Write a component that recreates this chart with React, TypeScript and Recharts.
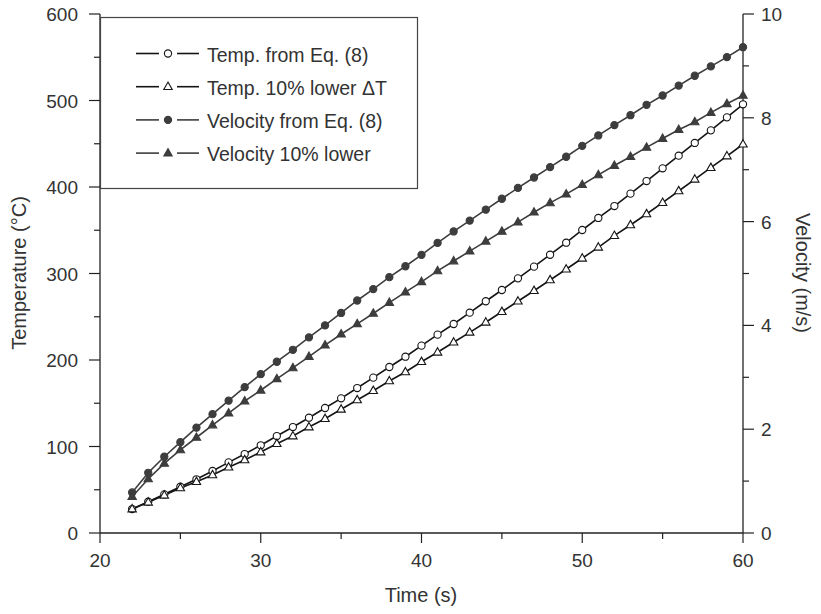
import React from "react";
import { LineChart, Line, XAxis, YAxis } from "recharts";

// time (s)
const times = [
  22, 23, 24, 25, 26, 27, 28, 29, 30, 31, 32, 33, 34, 35, 36, 37, 38, 39, 40, 41,
  42, 43, 44, 45, 46, 47, 48, 49, 50, 51, 52, 53, 54, 55, 56, 57, 58, 59, 60,
];

// temperature (°C)
const tempEq8 = [
  27.7, 36.2, 44.7, 53.5, 62.1, 71.7, 81.7, 91.3, 101.4, 112.1, 122.5, 133.3, 144.5,
  155.7, 167.6, 179.6, 191.9, 203.8, 216.6, 229.3, 241.6, 254.7, 267.9, 280.9, 294.4,
  307.9, 321.7, 335.6, 350.3, 364.2, 378, 392.3, 406.9, 421.6, 436.2, 450.9, 465.5,
  480.5, 495.6,
];
const tempLower = [
  27.7, 35.5, 43.6, 52, 59.3, 67.1, 76, 84.4, 93.6, 103.2, 112.1, 122.5, 132.1,
  143, 153.8, 164.5, 175.7, 186.1, 198, 208.9, 220.5, 232, 243.6, 255.8, 267.9,
  280.1, 292.5, 304.9, 317.6, 330.3, 343.7, 356.1, 368.8, 381.9, 395.4, 408.9, 422.3,
  435.8, 449.4,
];

// velocity (m/s)
const velEq8 = [
  0.78, 1.16, 1.47, 1.75, 2.03, 2.29, 2.55, 2.81, 3.06, 3.3, 3.53, 3.77, 4.0,
  4.24, 4.48, 4.7, 4.93, 5.14, 5.36, 5.59, 5.81, 6.02, 6.23, 6.44, 6.65, 6.85,
  7.05, 7.25, 7.46, 7.66, 7.86, 8.05, 8.25, 8.43, 8.62, 8.81, 8.99, 9.17, 9.36,
];
const velLower = [
  0.7, 1.04, 1.34, 1.6, 1.84, 2.08, 2.31, 2.54, 2.75, 2.97, 3.18, 3.4, 3.62,
  3.83, 4.03, 4.23, 4.44, 4.64, 4.84, 5.05, 5.24, 5.43, 5.62, 5.81, 5.99, 6.18,
  6.36, 6.53, 6.71, 6.9, 7.08, 7.25, 7.43, 7.6, 7.77, 7.92, 8.1, 8.27, 8.43,
];

const timeTicks = [20, 25, 30, 35, 40, 45, 50, 55, 60];
const tempTicks = [0, 50, 100, 150, 200, 250, 300, 350, 400, 450, 500, 550, 600];
const velTicks = [0, 1, 2, 3, 4, 5, 6, 7, 8, 9, 10];

const legendItems = [
  { label: "Temp. from Eq. (8)", shape: "circle", filled: false },
  { label: "Temp. 10% lower \u0394T", shape: "triangle", filled: false },
  { label: "Velocity from Eq. (8)", shape: "circle", filled: true },
  { label: "Velocity 10% lower", shape: "triangle", filled: true },
];

const data = times.map((t, i) => ({
  time: t,
  tempEq8: tempEq8[i],
  tempLower: tempLower[i],
  velEq8: velEq8[i],
  velLower: velLower[i],
}));

const FONT = '"Liberation Sans", Arial, Helvetica, sans-serif';
const TEXT = "#333";
const AXIS = "#222";
const TEMP_COLOR = "#151515";
const VEL_COLOR = "#3d3d3d";

const Marker = (props: any) => {
  const { cx, cy, shape, filled, color } = props;
  if (cx == null || cy == null) return null;
  const fill = filled ? color : "#fff";
  if (shape === "triangle") {
    const d = `M${cx},${cy - 4.6} L${cx + 4.2},${cy + 2.8} L${cx - 4.2},${cy + 2.8} Z`;
    return <path d={d} fill={fill} stroke={color} strokeWidth={1.1} />;
  }
  return <circle cx={cx} cy={cy} r={3.6} fill={fill} stroke={color} strokeWidth={1.1} />;
};

const BottomTick = (props: any) => {
  const { x, y, payload } = props;
  const major = payload.value % 10 === 0;
  return (
    <g>
      <line x1={x} y1={y} x2={x} y2={y + (major ? 10 : 6)} stroke={AXIS} strokeWidth={1.2} />
      {major && (
        <text x={x} y={y + 34} textAnchor="middle" fontFamily={FONT} fontSize={19} fill={TEXT}>
          {payload.value}
        </text>
      )}
    </g>
  );
};

const TopTick = (props: any) => {
  const { x, y, payload } = props;
  const major = payload.value % 10 === 0;
  return <line x1={x} y1={y} x2={x} y2={y + (major ? 9 : 6)} stroke={AXIS} strokeWidth={1.2} />;
};

const LeftTick = (props: any) => {
  const { x, y, payload } = props;
  const major = payload.value % 100 === 0;
  return (
    <g>
      <line x1={x - (major ? 11 : 6)} y1={y} x2={x} y2={y} stroke={AXIS} strokeWidth={1.2} />
      {major && (
        <text x={x - 22} y={y + 7} textAnchor="end" fontFamily={FONT} fontSize={19} fill={TEXT}>
          {payload.value}
        </text>
      )}
    </g>
  );
};

const RightTick = (props: any) => {
  const { x, y, payload } = props;
  const major = payload.value % 2 === 0;
  return (
    <g>
      <line x1={x} y1={y} x2={x + (major ? 11 : 6)} y2={y} stroke={AXIS} strokeWidth={1.2} />
      {major && (
        <text x={x + 18} y={y + 7} textAnchor="start" fontFamily={FONT} fontSize={19} fill={TEXT}>
          {payload.value}
        </text>
      )}
    </g>
  );
};

const App = () => {
  return (
    <div style={{ position: "absolute", left: 0, top: 0, width: 821, height: 614, background: "#fff" }}>
      <LineChart width={821} height={614} data={data} margin={{ top: 14, right: 0, bottom: 0, left: 0 }}>
        <XAxis
          dataKey="time"
          type="number"
          domain={[20, 60]}
          ticks={timeTicks}
          interval={0}
          height={81}
          tickSize={0}
          tickMargin={0}
          tickLine={false}
          axisLine={{ stroke: AXIS, strokeWidth: 1.3 }}
          tick={<BottomTick />}
        />
        <XAxis
          xAxisId="top"
          orientation="top"
          dataKey="time"
          type="number"
          domain={[20, 60]}
          ticks={timeTicks}
          interval={0}
          height={0}
          tickSize={0}
          tickMargin={0}
          tickLine={false}
          axisLine={{ stroke: AXIS, strokeWidth: 1.3 }}
          tick={<TopTick />}
        />
        <YAxis
          yAxisId="t"
          domain={[0, 600]}
          ticks={tempTicks}
          interval={0}
          width={100}
          tickSize={0}
          tickMargin={0}
          tickLine={false}
          axisLine={{ stroke: AXIS, strokeWidth: 1.3 }}
          tick={<LeftTick />}
        />
        <YAxis
          yAxisId="v"
          orientation="right"
          domain={[0, 10]}
          ticks={velTicks}
          interval={0}
          width={78}
          tickSize={0}
          tickMargin={0}
          tickLine={false}
          axisLine={{ stroke: AXIS, strokeWidth: 1.3 }}
          tick={<RightTick />}
        />
        <Line
          yAxisId="v"
          type="linear"
          dataKey="velEq8"
          stroke={VEL_COLOR}
          strokeWidth={1.6}
          dot={<Marker shape="circle" filled color={VEL_COLOR} />}
          activeDot={false}
          isAnimationActive={false}
        />
        <Line
          yAxisId="v"
          type="linear"
          dataKey="velLower"
          stroke={VEL_COLOR}
          strokeWidth={1.6}
          dot={<Marker shape="triangle" filled color={VEL_COLOR} />}
          activeDot={false}
          isAnimationActive={false}
        />
        <Line
          yAxisId="t"
          type="linear"
          dataKey="tempEq8"
          stroke={TEMP_COLOR}
          strokeWidth={1.6}
          dot={<Marker shape="circle" filled={false} color={TEMP_COLOR} />}
          activeDot={false}
          isAnimationActive={false}
        />
        <Line
          yAxisId="t"
          type="linear"
          dataKey="tempLower"
          stroke={TEMP_COLOR}
          strokeWidth={1.6}
          dot={<Marker shape="triangle" filled={false} color={TEMP_COLOR} />}
          activeDot={false}
          isAnimationActive={false}
        />
      </LineChart>

      {/* legend and axis titles */}
      <svg
        width={821}
        height={614}
        style={{ position: "absolute", left: 0, top: 0, pointerEvents: "none" }}
      >
        <rect x={100.5} y={17.5} width={317} height={171} fill="#fff" stroke="#444" strokeWidth={1.2} />
        {legendItems.map((item, i) => {
          const y = 53.5 + i * 33.2;
          const color = item.filled ? VEL_COLOR : TEMP_COLOR;
          return (
            <g key={item.label}>
              <line x1={136} y1={y} x2={159} y2={y} stroke={color} strokeWidth={1.6} />
              <line x1={177} y1={y} x2={199} y2={y} stroke={color} strokeWidth={1.6} />
              <Marker cx={168} cy={y} shape={item.shape} filled={item.filled} color={color} />
              <text x={207} y={y + 8} fontFamily={FONT} fontSize={19.5} fill={TEXT}>
                {item.label}
              </text>
            </g>
          );
        })}
        <text
          x={19}
          y={273}
          transform="rotate(-90 19 273)"
          textAnchor="middle"
          dominantBaseline="central"
          fontFamily={FONT}
          fontSize={20}
          fill={TEXT}
        >
          Temperature (°C)
        </text>
        <text
          x={803}
          y={273}
          transform="rotate(90 803 273)"
          textAnchor="middle"
          dominantBaseline="central"
          fontFamily={FONT}
          fontSize={20}
          fill={TEXT}
        >
          Velocity (m/s)
        </text>
        <text x={421} y={602} textAnchor="middle" fontFamily={FONT} fontSize={20} fill={TEXT}>
          Time (s)
        </text>
      </svg>
    </div>
  );
};

export default App;
